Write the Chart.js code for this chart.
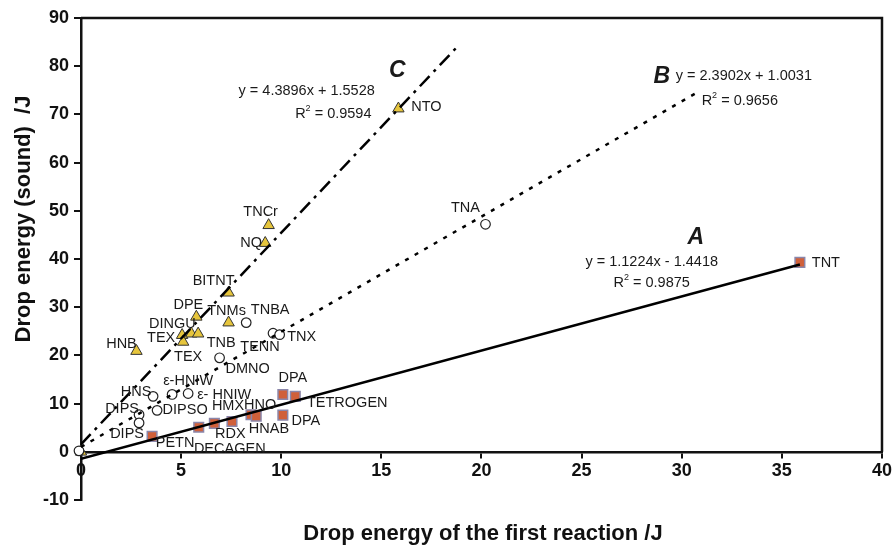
<!DOCTYPE html>
<html>
<head>
<meta charset="utf-8">
<script src="https://cdn.jsdelivr.net/npm/chart.js@4.4.0/dist/chart.umd.min.js"></script>
<style>
  body { margin: 0; background: #fff; }
  canvas { display: block; }
</style>
</head>
<body>
<canvas id="dropChart" width="895" height="548"></canvas>
<script>
// ---- data ----
// A: squares
const namesA = ["PETN", "DECAGEN", "RDX", "HMX", "HNAB", "HNO", "DPA", "TETROGEN", "DPA", "TNT"];
const xA = [3.55, 5.88, 6.66, 7.54, 8.49, 8.75, 10.08, 10.70, 10.08, 35.9];
const yA = [3.2, 5.1, 5.9, 6.3, 7.7, 7.4, 11.9, 11.5, 7.6, 39.3];

// B: open circles
const namesB = ["", "DIPS", "DIPS", "DIPSO", "HNS", "ε-HNIW", "ε- HNIW", "DMNO", "TNBA", "TENN", "TNX", "TNA"];
const xB = [-0.1, 2.9, 2.9, 3.8, 3.6, 4.55, 5.35, 6.92, 8.25, 9.59, 9.92, 20.2];
const yB = [0.2, 7.7, 6.0, 8.6, 11.5, 11.9, 12.1, 19.5, 26.8, 24.6, 24.3, 47.2];

// C: triangles
const namesC = ["", "HNB", "TEX", "TEX", "DINGU", "TNB", "DPE", "TNMs", "BITNT", "NQ", "TNCr", "NTO"];
const xC = [0, 2.77, 5.05, 5.10, 5.51, 5.85, 5.76, 7.37, 7.37, 9.20, 9.37, 15.85];
const yC = [0, 20.9, 24.2, 22.8, 24.5, 24.5, 28.0, 26.8, 33.0, 43.3, 47.0, 71.2];

// trendlines (A, B, C) as printed on the chart
const trendSlope = [1.1224, 2.3902, 4.3896];
const trendIntercept = [-1.4418, 1.0031, 1.5528];
const trendEnd = [35.9, 30.9, 18.8];
const trendText = ["y = 1.1224x - 1.4418", "y = 2.3902x + 1.0031", "y = 4.3896x + 1.5528"];
const trendR2 = ["0.9875", "0.9656", "0.9594"];

const xTickValues = [0, 5, 10, 15, 20, 25, 30, 35, 40];
const yTickValues = [-10, 0, 10, 20, 30, 40, 50, 60, 70, 80, 90];

// ---- label placement (pixel offsets from the marker) ----
const offsA = [[23, 7], [31, 22], [16, 11], [-4, -15], [18, 14], [4, -11], [10, -16], [52, 7], [23, 6], [26, 1]];
const offsB = [[0, 0], [-17, -6], [-12, 11], [28, 0], [-17, -4], [16, -13], [36, 2], [28, 11], [24, -13], [-13, 14], [22, 2], [-20, -16]];
const offsC = [[0, 0], [-15, -7], [-21, 3], [5, 15], [-19, -10], [23, 9], [-8, -12], [-2, -12], [-15, -12], [-14, 0], [-8, -13], [28, -2]];

// equation notes in data units
const notes = [
  { t: "C", x: 15.8, y: 79.1, big: true },
  { t: trendText[2], x: 11.27, y: 74.8 },
  { r2: trendR2[2], x: 12.6, y: 70.0 },
  { t: "B", x: 29.0, y: 77.9, big: true },
  { t: trendText[1], x: 33.1, y: 77.9 },
  { r2: trendR2[1], x: 32.9, y: 72.7 },
  { t: "A", x: 30.7, y: 44.5, big: true },
  { t: trendText[0], x: 28.5, y: 39.3 },
  { r2: trendR2[0], x: 28.5, y: 35.0 }
];

const pts = (xs, ys) => xs.map((x, i) => ({ x: x, y: ys[i] }));
const trend = i => [
  { x: 0, y: trendIntercept[i] },
  { x: trendEnd[i], y: trendSlope[i] * trendEnd[i] + trendIntercept[i] }
];

const labelSets = { 3: [namesA, offsA], 4: [namesB, offsB], 5: [namesC, offsC] };
const FONT = "'Liberation Sans', Arial, sans-serif";

const markLabels = {
  id: "markLabels",
  afterDatasetsDraw(chart) {
    const ctx = chart.ctx;
    ctx.save();
    ctx.font = "14.5px " + FONT;
    ctx.fillStyle = "#1a1a1a";
    ctx.textAlign = "center";
    ctx.textBaseline = "middle";
    Object.keys(labelSets).forEach(k => {
      const [names, offs] = labelSets[k];
      chart.getDatasetMeta(+k).data.forEach((p, i) => {
        if (!names[i]) return;
        ctx.fillText(names[i], p.x + offs[i][0], p.y + offs[i][1]);
      });
    });
    const xs = chart.scales.x, ys = chart.scales.y;
    notes.forEach(n => {
      const px = xs.getPixelForValue(n.x), py = ys.getPixelForValue(n.y);
      if (n.big) {
        ctx.font = "italic bold 23px " + FONT;
        ctx.textAlign = "center";
        ctx.fillText(n.t, px, py);
      } else if (n.r2) {
        // R with a small raised 2
        ctx.font = "14.5px " + FONT;
        const rest = " = " + n.r2;
        const wR = ctx.measureText("R").width, wRest = ctx.measureText(rest).width;
        ctx.font = "9px " + FONT;
        const w2 = ctx.measureText("2").width;
        const start = px - (wR + w2 + wRest) / 2;
        ctx.textAlign = "left";
        ctx.fillText("2", start + wR, py - 6);
        ctx.font = "14.5px " + FONT;
        ctx.fillText("R", start, py);
        ctx.fillText(rest, start + wR + w2, py);
      } else {
        ctx.font = "14.5px " + FONT;
        ctx.textAlign = "center";
        ctx.fillText(n.t, px, py);
      }
    });
    ctx.restore();
  }
};

const frame = {
  id: "frame",
  afterDraw(chart) {
    const { ctx, chartArea } = chart;
    const y0 = chart.scales.y.getPixelForValue(0);
    ctx.save();
    ctx.strokeStyle = "#111";
    ctx.lineWidth = 2.5;
    ctx.beginPath();
    ctx.moveTo(chartArea.left, chartArea.top);
    ctx.lineTo(chartArea.right, chartArea.top);
    ctx.lineTo(chartArea.right, y0);
    ctx.stroke();
    ctx.fillStyle = "#111";
    ctx.textAlign = "center";
    ctx.textBaseline = "middle";
    ctx.font = "bold 22px " + FONT;
    ctx.fillText("Drop energy of the first reaction /J", 483, 534);
    ctx.translate(24, 219);
    ctx.rotate(-Math.PI / 2);
    ctx.fillText("Drop energy (sound)  /J", 0, 0);
    ctx.restore();
  }
};

const tickFont = { family: FONT, size: 18, weight: "bold" };

new Chart(document.getElementById("dropChart"), {
  type: "scatter",
  data: {
    datasets: [
      { type: "line", data: trend(0), borderColor: "#000", borderWidth: 2.5, pointRadius: 0, fill: false },
      { type: "line", data: trend(1), borderColor: "#000", borderWidth: 2.5, borderDash: [4, 7], pointRadius: 0, fill: false },
      { type: "line", data: trend(2), borderColor: "#000", borderWidth: 2.5, borderDash: [14, 6, 3, 6], pointRadius: 0, fill: false },
      { label: "A", data: pts(xA, yA), pointStyle: "rect", pointRadius: 6.8,
        backgroundColor: "#d0603a", borderColor: "#8a86aa", borderWidth: 1.5, clip: false },
      { label: "B", data: pts(xB, yB), pointStyle: "circle", pointRadius: 4.8,
        backgroundColor: "#fff", borderColor: "#222", borderWidth: 1.2, clip: false },
      { label: "C", data: pts(xC, yC), pointStyle: "triangle", pointRadius: 6.6,
        backgroundColor: "#e6c53c", borderColor: "#333", borderWidth: 1, clip: false }
    ]
  },
  options: {
    responsive: false,
    animation: false,
    layout: { padding: { left: 0, top: 18, right: 12, bottom: 48 } },
    plugins: { legend: { display: false }, tooltip: { enabled: false } },
    scales: {
      x: {
        type: "linear",
        position: { y: 0 },
        min: 0, max: 40,
        afterBuildTicks: s => { s.ticks = xTickValues.map(v => ({ value: v })); },
        grid: { drawOnChartArea: false, drawTicks: true, tickLength: 5, color: "#111", lineWidth: 2 },
        border: { display: true, color: "#111", width: 2.5 },
        ticks: { font: tickFont, color: "#111", padding: 3, maxRotation: 0 }
      },
      y: {
        type: "linear",
        min: -10, max: 90,
        afterBuildTicks: s => { s.ticks = yTickValues.map(v => ({ value: v })); },
        afterFit: s => { s.width = 81; },
        grid: { drawOnChartArea: false, drawTicks: true, tickLength: 7, color: "#111", lineWidth: 2 },
        border: { display: true, color: "#111", width: 2.5 },
        ticks: { font: tickFont, color: "#111", padding: 5 }
      }
    }
  },
  plugins: [markLabels, frame]
});
</script>
</body>
</html>
